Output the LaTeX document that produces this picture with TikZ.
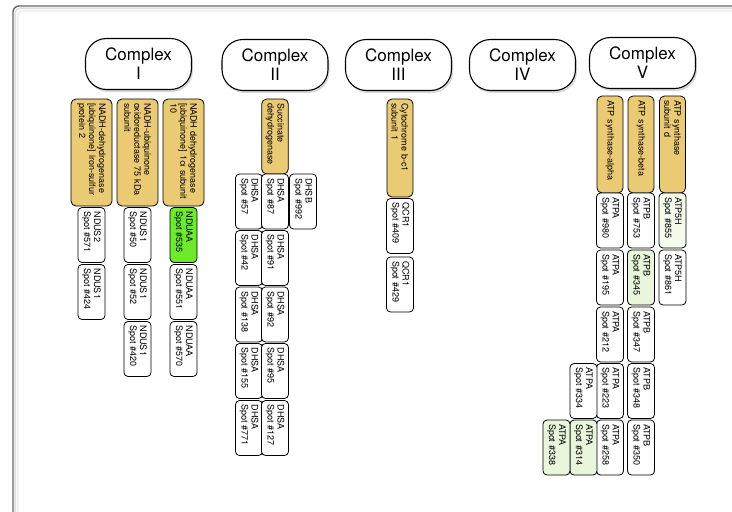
\documentclass[tikz,border=0pt]{standalone}
\usepackage{fontspec}
\setmainfont{TeX Gyre Heros}
\usetikzlibrary{shadows}

\definecolor{tanfill}{HTML}{EBCA74}
\definecolor{hitgreen}{HTML}{6CEB2A}
\definecolor{palegreen}{HTML}{EAF6DC}
\definecolor{faintgreen}{HTML}{F4FAEC}

\tikzset{
  complexo/.style={draw, fill=white, line width=1.1pt, rounded corners=21pt,
    minimum width=106pt, minimum height=51pt, align=center,
    font=\fontsize{17}{19}\selectfont,
    drop shadow={shadow xshift=1.5pt, shadow yshift=-2.5pt, opacity=.3}},
  proteina/.style={draw, fill=tanfill, line width=.8pt, rounded corners=5pt,
    rotate=-90, align=left, inner sep=4pt, font=\fontsize{9}{10}\selectfont},
  spot/.style={draw, fill=white, line width=.8pt, rounded corners=4pt,
    rotate=-90, minimum width=55pt, minimum height=27pt, text width=47pt,
    inner sep=3pt, align=left, font=\fontsize{9}{10}\selectfont},
}

\begin{document}
\begin{tikzpicture}[x=1pt, y=-1pt]
		\useasboundingbox (0,0) rectangle (732,512);
		
		% --- Moldura (cortada a direita e em baixo)
		\draw[gray!10, line width=2.5pt, rounded corners=6pt] (17.5,530) -- (17.5,10.5) -- (750,10.5);
		\draw[gray!25, line width=1.5pt, rounded corners=6pt] (15,530) -- (15,8) -- (750,8);
		\draw[gray!80!black, line width=1.4pt, rounded corners=6pt] (13,530) -- (13,6) -- (750,6);
		
		% --- Complexos (cabecalhos)
		\node[complexo] (cI) at (138.5,64) {Complex\\I};
		\node[complexo] (cII) at (275,65) {Complex\\II};
		\node[complexo] (cIII) at (398.5,65) {Complex\\III};
		\node[complexo] (cIV) at (522.5,65) {Complex\\IV};
		\node[complexo] (cV) at (642.5,63) {Complex\\V};
		
		% --- Complexo I
		\node[proteina, minimum width=107pt, minimum height=41pt, text width=99pt] (ndus2) at (91.5,152.5)
			{NADH-dehydrogenase\\{[ubiquinone]} iron-sulfur\\protein 2};
		\node[proteina, minimum width=107pt, minimum height=41pt, text width=99pt] (ndus1) at (137.5,152.5)
			{NADH-ubiquinone\\oxidoreductase 75 kDa\\subunit};
		\node[proteina, minimum width=107pt, minimum height=41pt, text width=99pt] (nduaa) at (183.5,152.5)
			{NADH dehydrogenase\\{[ubiquinone]} 1α subunit\\10};
		
		\node[spot] (s571) at (91.5,235) {NDUS2\\Spot \#571};
		\node[spot] (s424) at (91.5,292) {NDUS1\\Spot \#424};
		\node[spot] (s50) at (137.5,235) {NDUS1\\Spot \#50};
		\node[spot] (s52) at (137.5,292) {NDUS1\\Spot \#52};
		\node[spot] (s420) at (137.5,349) {NDUS1\\Spot \#420};
		\node[spot, fill=hitgreen] (s535) at (183.5,235) {NDUAA\\Spot \#535};
		\node[spot] (s551) at (183.5,292) {NDUAA\\Spot \#551};
		\node[spot] (s570) at (183.5,349) {NDUAA\\Spot \#570};
		
		% --- Complexo II
		\node[proteina, minimum width=75pt, minimum height=26pt, text width=67pt] (sdh) at (275,136.5)
			{Succinate\\dehydrogenase};
		
		\node[spot] (s57) at (249,201.5) {DHSA\\Spot \#57};
		\node[spot] (s42) at (249,258) {DHSA\\Spot \#42};
		\node[spot] (s138) at (249,314.5) {DHSA\\Spot \#138};
		\node[spot] (s155) at (249,371) {DHSA\\Spot \#155};
		\node[spot] (s771) at (249,428) {DHSA\\Spot \#771};
		\node[spot] (s87) at (275,201.5) {DHSA\\Spot \#87};
		\node[spot] (s91) at (275,258) {DHSA\\Spot \#91};
		\node[spot] (s92) at (275,314.5) {DHSA\\Spot \#92};
		\node[spot] (s95) at (275,371) {DHSA\\Spot \#95};
		\node[spot] (s127) at (275,428) {DHSA\\Spot \#127};
		\node[spot] (s992) at (303,201.5) {DHSB\\Spot \#992};
		
		% --- Complexo III
		\node[proteina, minimum width=98pt, minimum height=26pt, text width=90pt] (qcr) at (400,148)
			{Cytochrome b-c1\\subunit 1};
		
		\node[spot] (s409) at (400,226) {QCR1\\Spot \#409};
		\node[spot] (s429) at (400,284.5) {QCR1\\Spot \#429};
		
		% --- Complexo V
		\node[proteina, minimum width=97pt, minimum height=26pt, text width=89pt] (atpa) at (610,144.5)
			{ATP synthase-alpha};
		\node[proteina, minimum width=97pt, minimum height=26pt, text width=89pt] (atpb) at (641,144.5)
			{ATP synthase-beta};
		\node[proteina, minimum width=97pt, minimum height=26pt, text width=89pt] (atp5h) at (672.5,144.5)
			{ATP synthase\\subunit d};
		
		\node[spot] (s980) at (610,220.5) {ATPA\\Spot \#980};
		\node[spot] (s195) at (610,277.5) {ATPA\\Spot \#195};
		\node[spot] (s212) at (610,334.5) {ATPA\\Spot \#212};
		\node[spot] (s223) at (610,391) {ATPA\\Spot \#223};
		\node[spot] (s258) at (610,447.5) {ATPA\\Spot \#258};
		\node[spot] (s753) at (641,220.5) {ATPB\\Spot \#753};
		\node[spot, fill=palegreen] (s345) at (641,277.5) {ATPB\\Spot \#345};
		\node[spot] (s347) at (641,334.5) {ATPB\\Spot \#347};
		\node[spot] (s348) at (641,391) {ATPB\\Spot \#348};
		\node[spot] (s350) at (641,447.5) {ATPB\\Spot \#350};
		\node[spot, fill=faintgreen] (s855) at (672.5,220.5) {ATP5H\\Spot \#855};
		\node[spot] (s861) at (672.5,277.5) {ATP5H\\Spot \#861};
		\node[spot] (s334) at (583.5,391) {ATPA\\Spot \#334};
		\node[spot, fill=palegreen] (s314) at (583.5,447.5) {ATPA\\Spot \#314};
		\node[spot, fill=palegreen] (s338) at (556.5,447.5) {ATPA\\Spot \#338};
		
	\end{tikzpicture}
\end{document}
